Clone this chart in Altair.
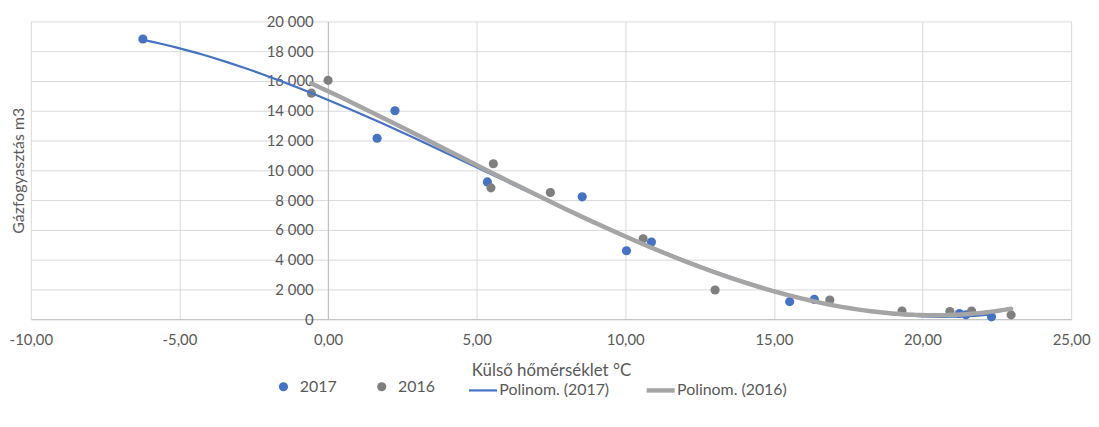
import altair as alt
import pandas as pd

# ---- data ----
x_2017 = [-6.23, 1.65, 2.25, 5.36, 8.55, 10.04, 10.88, 15.53, 16.36, 21.24, 21.46, 22.32]
y_2017 = [18820, 12150, 14000, 9220, 8220, 4600, 5180, 1180, 1330, 380, 290, 160]
x_2016 = [-0.56, 0.00, 5.48, 5.56, 7.48, 10.60, 13.02, 16.88, 19.31, 20.92, 21.65, 22.98]
y_2016 = [15180, 16040, 8820, 10440, 8510, 5400, 1960, 1290, 550, 510, 550, 290]

series = ["2017", "2016", "Polinom. (2017)", "Polinom. (2016)"]
x_ticks = [-10, -5, 0, 5, 10, 15, 20, 25]
y_ticks = [0, 2000, 4000, 6000, 8000, 10000, 12000, 14000, 16000, 18000, 20000]

BLUE = "#4472C4"
GRAY_PT = "#7F7F7F"
GRAY_LN = "#A5A5A5"
TXT = "#595959"
FONT = "Lato"

df = pd.DataFrame({
    "x": x_2017 + x_2016,
    "y": y_2017 + y_2016,
    "year": ["2017"] * len(x_2017) + ["2016"] * len(x_2016),
})
df["series"] = df["year"]

stroke_scale = alt.Scale(domain=series, range=[BLUE, GRAY_PT, BLUE, GRAY_LN])
fill_scale = alt.Scale(domain=series, range=[BLUE, GRAY_PT, "transparent", "transparent"])
shape_scale = alt.Scale(domain=series, range=["circle", "circle", "stroke", "stroke"])
size_scale = alt.Scale(type="ordinal", domain=series, range=[85, 85, 800, 800])
sw_scale = alt.Scale(type="ordinal", domain=series, range=[0, 0, 2.2, 4.5])

leg = alt.Legend(
    title=None, orient="none", legendX=238, legendY=355,
    direction="horizontal", columns=4, columnPadding=28,
    labelFont=FONT, labelFontSize=16, labelColor=TXT, labelOffset=0,
)

xscale = alt.Scale(domain=[-10, 25], nice=False, zero=False)
yscale = alt.Scale(domain=[0, 20000], nice=False)

xaxis = alt.Axis(
    title="Külső hőmérséklet °C", values=x_ticks, tickCount=20, format=",.2f",
    grid=True, gridColor="#D9D9D9", domainColor="#BFBFBF", ticks=False,
    labelFlush=False, labelOverlap=False,
    labelPadding=13, labelFont=FONT, labelFontSize=15, labelColor=TXT,
    titleFont=FONT, titleFontSize=17, titleColor=TXT, titleFontWeight="normal",
    titlePadding=16,
)
yaxis = alt.Axis(
    title="Gázfogyasztás m3", values=y_ticks, tickCount=20, format=",d",
    grid=True, gridColor="#D9D9D9", domainColor="#BFBFBF", ticks=False,
    labelOverlap=False, labelFlush=False,
    offset=-299.4, labelPadding=15,
    labelFont=FONT, labelFontSize=15, labelColor=TXT,
    titleFont=FONT, titleFontSize=16, titleColor=TXT, titleFontWeight="normal",
    titleX=-312, titleY=150, titleBaseline="middle", titleAlign="center",
)

base = alt.Chart(df)

pts = base.mark_point(filled=True, opacity=1).encode(
    x=alt.X("x:Q", scale=xscale, axis=xaxis),
    y=alt.Y("y:Q", scale=yscale, axis=yaxis),
    fill=alt.Fill("series:N", scale=fill_scale, legend=leg),
    stroke=alt.Stroke("series:N", scale=stroke_scale, legend=leg),
    shape=alt.Shape("series:N", scale=shape_scale, legend=leg),
    size=alt.Size("series:N", scale=size_scale, legend=leg),
    strokeWidth=alt.StrokeWidth("series:N", scale=sw_scale, legend=leg),
)

lines = base.transform_regression(
    "x", "y", method="poly", order=3, groupby=["year"]
).transform_calculate(
    series="'Polinom. (' + datum.year + ')'"
).mark_line(strokeCap="round").encode(
    x=alt.X("x:Q", scale=xscale),
    y=alt.Y("y:Q", scale=yscale),
    stroke=alt.Stroke("series:N", scale=stroke_scale, legend=leg),
    strokeWidth=alt.StrokeWidth("series:N", scale=sw_scale, legend=leg),
)

chart = alt.layer(pts, lines).properties(
    width=1048, height=300, autosize="none",
    padding={"left": 23, "top": 12, "right": 20, "bottom": 95},
).configure(
    locale=alt.Locale(number=alt.NumberLocale(
        decimal=",", thousands="\u00a0", grouping=[3], currency=["", ""], minus="-"
    ))
).configure_view(stroke="transparent")

chart.save("out.html", embed_options={"renderer": "svg", "actions": False})
